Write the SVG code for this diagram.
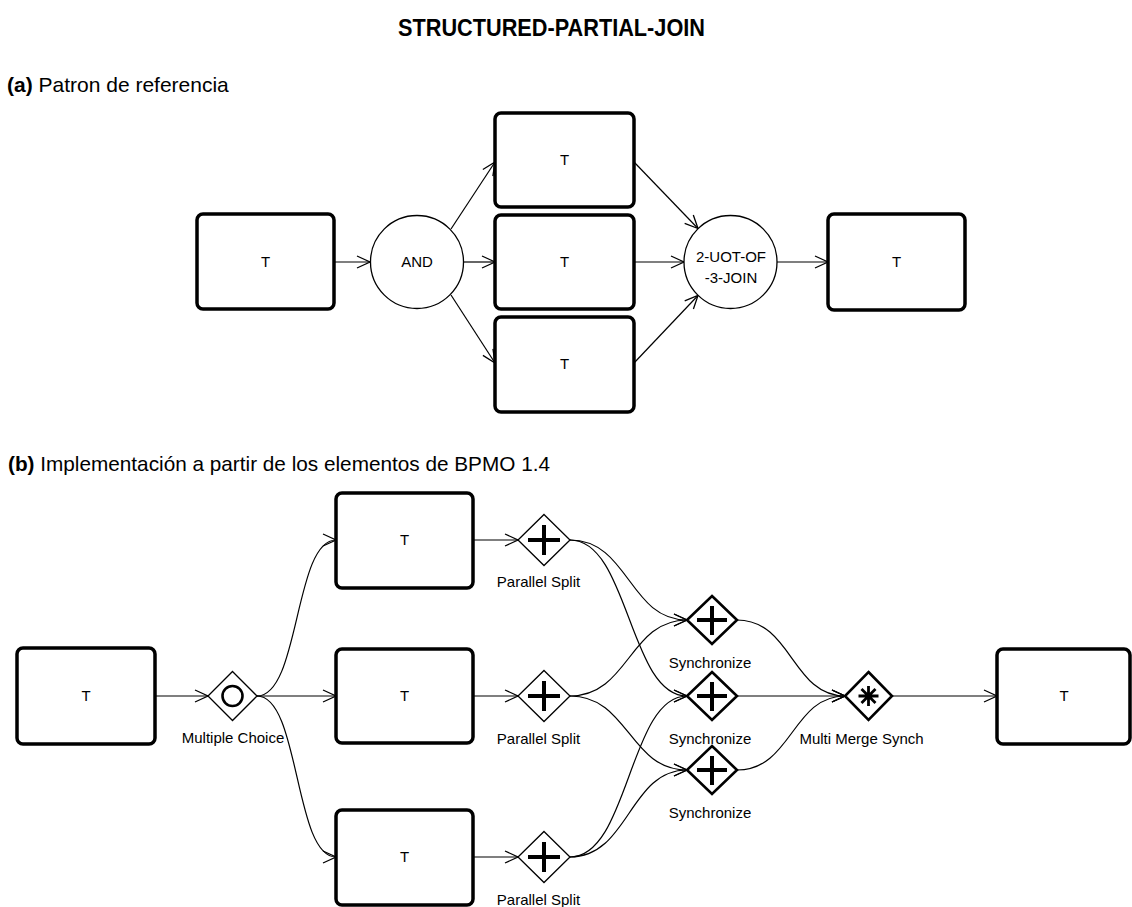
<svg xmlns="http://www.w3.org/2000/svg" width="1132" height="907" viewBox="0 0 1132 907">
<style>
.box{fill:#fff;stroke:#000;stroke-width:3.5}
.circ{fill:#fff;stroke:#000;stroke-width:1.3}
.gw{fill:#fff;stroke:#000;stroke-width:1.3}
.gwb{fill:#fff;stroke:#000;stroke-width:2.6}
.mark{stroke:#000;stroke-width:4;fill:none}
.conn{fill:none;stroke:#000;stroke-width:1.2;marker-end:url(#arr)}
.lbl{font-family:"Liberation Sans",Arial,sans-serif;font-size:15px;fill:#000;text-anchor:middle}
.hdr{font-family:"Liberation Sans",Arial,sans-serif;font-size:21px;fill:#000}
.ttl{font-family:"Liberation Sans",Arial,sans-serif;font-size:23px;font-weight:bold;fill:#000;text-anchor:middle}
</style>
<defs>
<marker id="arr" viewBox="-15 -8 17 16" refX="0" refY="0" markerWidth="17" markerHeight="16" orient="auto" markerUnits="userSpaceOnUse">
<path d="M-13,-6 L0,0 L-13,6" fill="none" stroke="#000" stroke-width="1.3"/>
</marker>
</defs>
<rect width="1132" height="907" fill="#fff"/>
<text class="ttl" x="551.5" y="36" textLength="307" lengthAdjust="spacingAndGlyphs">STRUCTURED-PARTIAL-JOIN</text>
<text class="hdr" x="7" y="92"><tspan font-weight="bold">(a)</tspan> Patron de referencia</text>
<text class="hdr" x="8" y="471" textLength="542" lengthAdjust="spacingAndGlyphs"><tspan font-weight="bold">(b)</tspan> Implementación a partir de los elementos de BPMO 1.4</text>

<g id="connectors">
<line class="conn" x1="334" y1="262" x2="370" y2="262"/>
<line class="conn" x1="451" y1="229" x2="495" y2="162"/>
<line class="conn" x1="464" y1="262" x2="495" y2="262"/>
<line class="conn" x1="451" y1="295" x2="495" y2="363"/>
<line class="conn" x1="634" y1="162" x2="698" y2="228.5"/>
<line class="conn" x1="634" y1="262" x2="684" y2="262"/>
<line class="conn" x1="634" y1="363" x2="698" y2="295.5"/>
<line class="conn" x1="777" y1="262" x2="828" y2="262"/>

<line class="conn" x1="155" y1="696" x2="208" y2="696"/>
<path class="conn" d="M257,696 C300,696 294,540 336,540"/>
<line class="conn" x1="257" y1="696" x2="336" y2="696"/>
<path class="conn" d="M257,696 C300,696 294,857 336,857"/>
<line class="conn" x1="473" y1="540" x2="518" y2="540"/>
<line class="conn" x1="473" y1="696" x2="518" y2="696"/>
<line class="conn" x1="473" y1="857" x2="518" y2="857"/>
<path class="conn" d="M570,540 C629,540 629,620 687,620"/>
<path class="conn" d="M570,540 C629,540 629,696 687,696"/>
<path class="conn" d="M570,696 C629,696 629,620 687,620"/>
<path class="conn" d="M570,696 C629,696 629,770 687,770"/>
<path class="conn" d="M570,857 C629,857 629,696 687,696"/>
<path class="conn" d="M570,857 C629,857 629,770 687,770"/>
<path class="conn" d="M737,620 C792,620 792,696 845,696"/>
<line class="conn" x1="737" y1="696" x2="845" y2="696"/>
<path class="conn" d="M737,770 C792,770 792,696 845,696"/>
<line class="conn" x1="892" y1="696" x2="997" y2="696"/>
</g>

<g id="a-t1"><rect class="box" x="197" y="214" width="137" height="95" rx="6"/><text class="lbl" x="265.5" y="267">T</text></g>
<g id="a-and"><circle class="circ" cx="417" cy="262" r="46.5"/><text class="lbl" x="417" y="267">AND</text></g>
<g id="a-t2"><rect class="box" x="495" y="113" width="139" height="94" rx="6"/><text class="lbl" x="564.5" y="165">T</text></g>
<g id="a-t3"><rect class="box" x="495" y="215" width="139" height="94" rx="6"/><text class="lbl" x="564.5" y="267">T</text></g>
<g id="a-t4"><rect class="box" x="495" y="317" width="139" height="95" rx="6"/><text class="lbl" x="564.5" y="369">T</text></g>
<g id="a-join"><circle class="circ" cx="730.5" cy="262" r="46.5"/><text class="lbl" x="731" y="262">2-UOT-OF</text><text class="lbl" x="731" y="283">-3-JOIN</text></g>
<g id="a-t5"><rect class="box" x="828" y="214" width="137" height="96" rx="6"/><text class="lbl" x="896.5" y="267">T</text></g>

<g id="b-t1"><rect class="box" x="17" y="648" width="138" height="96" rx="6"/><text class="lbl" x="86" y="701">T</text></g>
<g id="b-mc"><path class="gw" d="M232.5,671.5 L257,696 L232.5,720.5 L208,696 Z"/><circle cx="232.5" cy="696" r="10" fill="none" stroke="#000" stroke-width="2.6"/><text class="lbl" x="233" y="743">Multiple Choice</text></g>
<g id="b-t2"><rect class="box" x="336" y="493" width="137" height="95" rx="6"/><text class="lbl" x="404.5" y="545">T</text></g>
<g id="b-t3"><rect class="box" x="336" y="649" width="137" height="94" rx="6"/><text class="lbl" x="404.5" y="701">T</text></g>
<g id="b-t4"><rect class="box" x="336" y="810" width="137" height="95" rx="6"/><text class="lbl" x="404.5" y="862">T</text></g>
<g id="b-ps1"><path class="gw" d="M544,514.5 L570,540 L544,565.5 L518,540 Z"/><path class="mark" d="M544,525 V555 M528,540 H560"/><text class="lbl" x="538.5" y="587">Parallel Split</text></g>
<g id="b-ps2"><path class="gw" d="M544,670.5 L570,696 L544,721.5 L518,696 Z"/><path class="mark" d="M544,681 V711 M528,696 H560"/><text class="lbl" x="538.5" y="744">Parallel Split</text></g>
<g id="b-ps3"><path class="gw" d="M544,831.5 L570,857 L544,882.5 L518,857 Z"/><path class="mark" d="M544,842 V872 M528,857 H560"/><text class="lbl" x="538.5" y="905">Parallel Split</text></g>
<g id="b-sy1"><path class="gwb" d="M712,596 L737,620 L712,644 L687,620 Z"/><path class="mark" d="M712,606 V635 M697,620 H727"/><text class="lbl" x="710" y="668">Synchronize</text></g>
<g id="b-sy2"><path class="gwb" d="M712,672 L737,696 L712,720 L687,696 Z"/><path class="mark" d="M712,682 V711 M697,696 H727"/><text class="lbl" x="710" y="744">Synchronize</text></g>
<g id="b-sy3"><path class="gwb" d="M712,746 L737,770 L712,794 L687,770 Z"/><path class="mark" d="M712,756 V785 M697,770 H727"/><text class="lbl" x="710" y="818">Synchronize</text></g>
<g id="b-mm"><path class="gwb" d="M868.5,672 L892,696 L868.5,720 L845,696 Z"/><path d="M868.5,686 V706 M858.5,696 H878.5 M861.5,689 L875.5,703 M875.5,689 L861.5,703" stroke="#000" stroke-width="2.8" fill="none"/><text class="lbl" x="861.5" y="744">Multi Merge Synch</text></g>
<g id="b-t5"><rect class="box" x="997" y="649" width="133" height="95" rx="6"/><text class="lbl" x="1064" y="701">T</text></g>
</svg>
